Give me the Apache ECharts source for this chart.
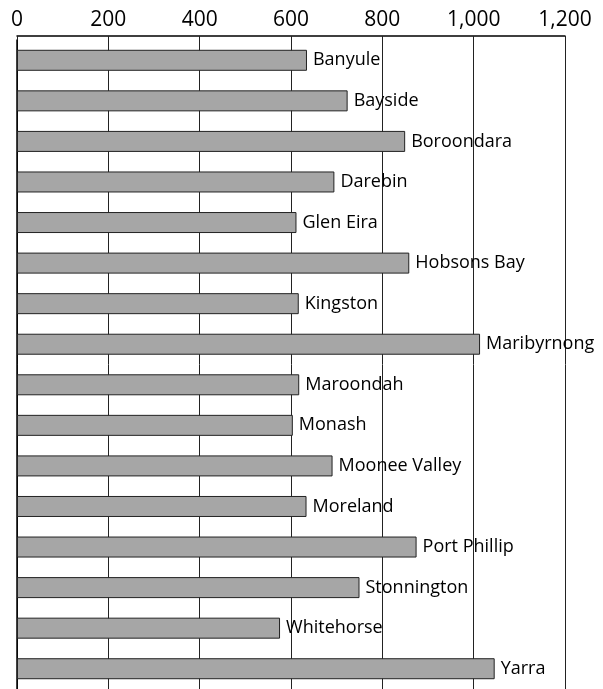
<!DOCTYPE html>
<html>
<head>
<meta charset="utf-8">
<script src="https://cdn.jsdelivr.net/npm/echarts@6/dist/echarts.min.js"></script>
<style>
html,body{margin:0;padding:0;background:#fff;}
#chart{width:603px;height:689px;}
</style>
</head>
<body>
<div id="chart"></div>
<script>
const categories = ['Banyule','Bayside','Boroondara','Darebin','Glen Eira','Hobsons Bay','Kingston','Maribyrnong','Maroondah','Monash','Moonee Valley','Moreland','Port Phillip','Stonnington','Whitehorse','Yarra'];
const values = [635, 724, 850, 695, 612, 859, 617, 1014, 618, 604, 691, 634, 875, 750, 576, 1046];
const xTicks = [0, 200, 400, 600, 800, 1000, 1200];

const chart = echarts.init(document.getElementById('chart'), null, {renderer: 'canvas'});
chart.setOption({
  animation: false,
  backgroundColor: '#ffffff',
  grid: {left: 17, right: 38, top: 40, bottom: 0, containLabel: false},
  xAxis: {
    type: 'value',
    position: 'top',
    offset: 4,
    min: xTicks[0],
    max: xTicks[xTicks.length - 1],
    interval: xTicks[1] - xTicks[0],
    axisLine: {show: true, lineStyle: {color: '#000', width: 1.5}},
    axisTick: {show: true, inside: true, length: 4, lineStyle: {color: '#222', width: 1}},
    axisLabel: {
      color: '#000', fontSize: 21, fontFamily: 'Open Sans', margin: 5,
      formatter: v => v.toLocaleString('en-US')
    },
    splitLine: {show: true, lineStyle: {color: '#222', width: 1}}
  },
  yAxis: {
    type: 'category',
    inverse: true,
    data: categories,
    axisLine: {show: true, onZero: false, lineStyle: {color: '#000', width: 1.5}},
    axisTick: {show: false},
    axisLabel: {show: false},
    splitLine: {show: false}
  },
  series: [{
    type: 'bar',
    data: values,
    barWidth: 21,
    itemStyle: {color: '#a6a6a6', borderColor: '#222', borderWidth: 1},
    label: {
      show: true, position: 'right', distance: 6,
      formatter: p => p.name,
      color: '#000', fontSize: 18, fontFamily: 'Open Sans'
    }
  }]
});
</script>
</body>
</html>
